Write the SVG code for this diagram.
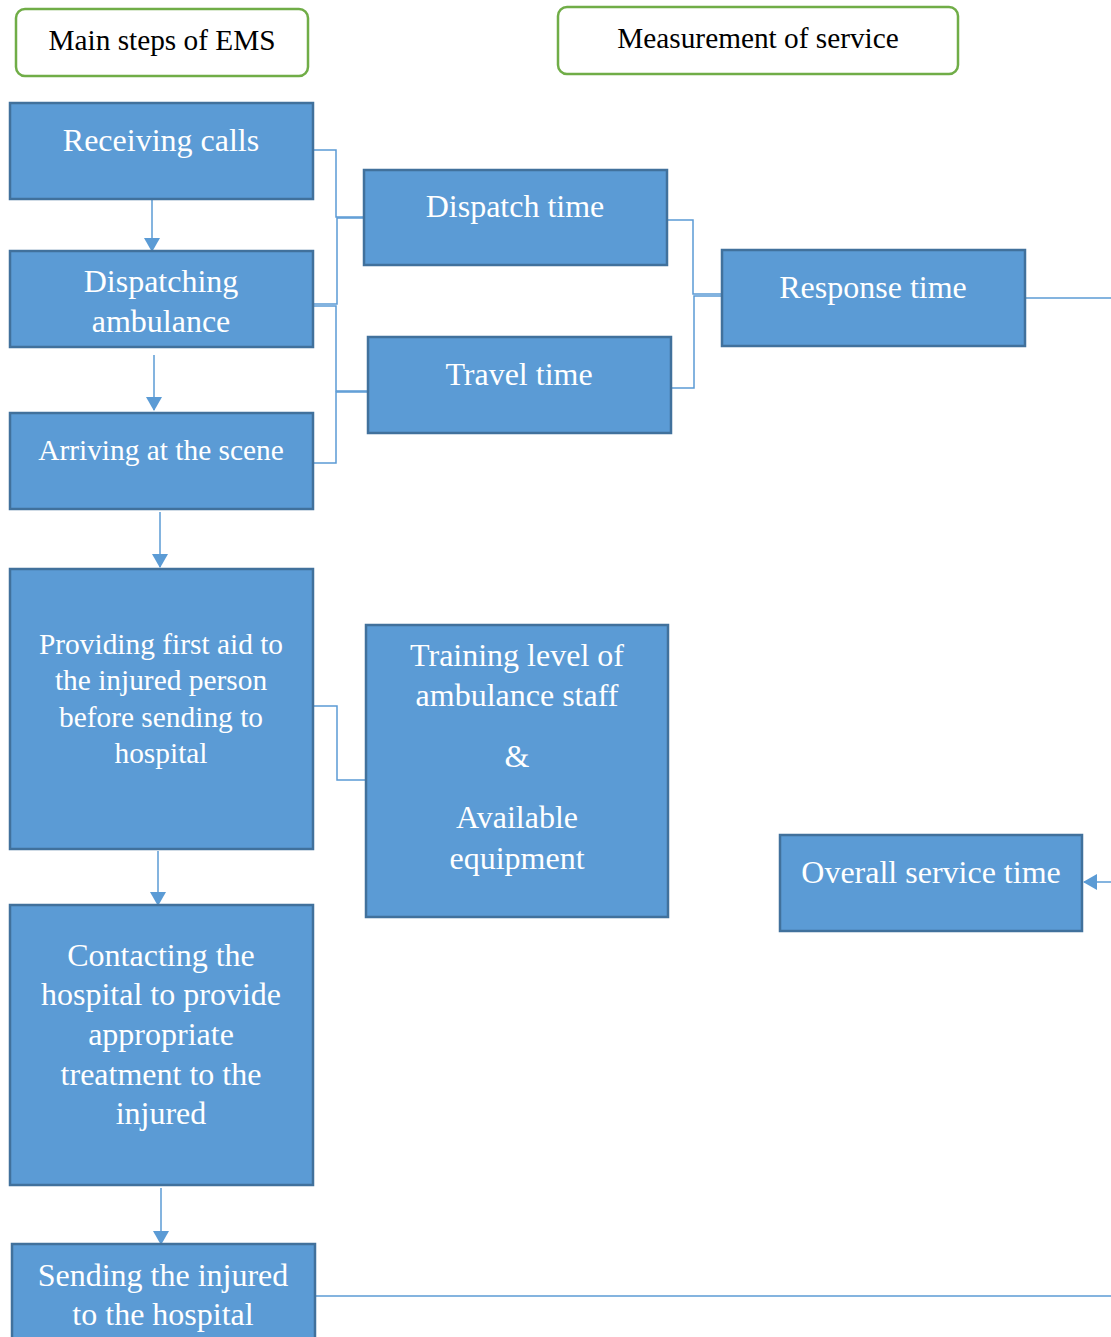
<svg xmlns="http://www.w3.org/2000/svg" width="1111" height="1337" viewBox="0 0 1111 1337">
<defs>
<style>
.hdr{fill:#fff;stroke:#70ad47;stroke-width:2.5}
.box{fill:#5b9bd5;stroke:#41719c;stroke-width:2.5}
.ht{font-family:"Liberation Serif","Times New Roman",serif;font-size:29.3px;fill:#000;text-anchor:middle}
.bt{font-family:"Liberation Serif","Times New Roman",serif;font-size:32px;fill:#fff;text-anchor:middle}
.st{font-family:"Liberation Serif","Times New Roman",serif;font-size:29.4px;fill:#fff;text-anchor:middle}
.ln{fill:none;stroke:#5b9bd5;stroke-width:1.5}
.ar{fill:none;stroke:#5b9bd5;stroke-width:1.5;marker-end:url(#ah)}
</style>
<marker id="ah" markerWidth="14" markerHeight="16" refX="13" refY="8" orient="auto" markerUnits="userSpaceOnUse">
<path d="M0,0 L14,8 L0,16 Z" fill="#5b9bd5"/>
</marker>
</defs>
<g id="connectors">
<path class="ln" d="M313,150 H336 V217 H364"/>
<path class="ln" d="M313,304 H337 V218 H364"/>
<path class="ln" d="M313,306 H336 V391 H368"/>
<path class="ln" d="M313,463 H336 V392 H368"/>
<path class="ln" d="M667,220 H693 V294 H722"/>
<path class="ln" d="M671,388 H694 V296 H722"/>
<path class="ln" d="M1025,298 H1111"/>
<path class="ln" d="M313,706 H337 V780 H366"/>
<path class="ln" d="M315,1296 H1111"/>
<path class="ar" d="M1111,882 H1084"/>
<path class="ar" d="M152,200 V251"/>
<path class="ar" d="M154,355 V410"/>
<path class="ar" d="M160,512 V567"/>
<path class="ar" d="M158,851 V905"/>
<path class="ar" d="M161,1188 V1244"/>
</g>
<g id="hdr-main"><rect class="hdr" x="16" y="9" width="292" height="67" rx="9"/><text class="ht" x="162" y="50">Main steps of EMS</text></g>
<g id="hdr-measure"><rect class="hdr" x="558" y="7" width="400" height="67" rx="9"/><text class="ht" x="758" y="48">Measurement of service</text></g>
<g id="receiving"><rect class="box" x="10" y="103" width="303" height="96"/><text class="bt" x="161" y="151">Receiving calls</text></g>
<g id="dispatching"><rect class="box" x="10" y="251" width="303" height="96"/><text class="bt" x="161" y="292">Dispatching</text><text class="bt" x="161" y="332">ambulance</text></g>
<g id="arriving"><rect class="box" x="10" y="413" width="303" height="96"/><text class="st" x="161" y="460">Arriving at the scene</text></g>
<g id="firstaid"><rect class="box" x="10" y="569" width="303" height="280"/><text class="st" x="161" y="654">Providing first aid to</text><text class="st" x="161" y="690">the injured person</text><text class="st" x="161" y="727">before sending to</text><text class="st" x="161" y="763">hospital</text></g>
<g id="contacting"><rect class="box" x="10" y="905" width="303" height="280"/><text class="bt" x="161" y="966">Contacting the</text><text class="bt" x="161" y="1005">hospital to provide</text><text class="bt" x="161" y="1045">appropriate</text><text class="bt" x="161" y="1085">treatment to the</text><text class="bt" x="161" y="1124">injured</text></g>
<g id="sending"><rect class="box" x="12" y="1244" width="303" height="100"/><text class="bt" x="163" y="1286">Sending the injured</text><text class="bt" x="163" y="1325">to the hospital</text></g>
<g id="dispatch-time"><rect class="box" x="364" y="170" width="303" height="95"/><text class="bt" x="515" y="217">Dispatch time</text></g>
<g id="travel-time"><rect class="box" x="368" y="337" width="303" height="96"/><text class="bt" x="519" y="385">Travel time</text></g>
<g id="response-time"><rect class="box" x="722" y="250" width="303" height="96"/><text class="bt" x="873" y="298">Response time</text></g>
<g id="training"><rect class="box" x="366" y="625" width="302" height="292"/><text class="bt" x="517" y="666">Training level of</text><text class="bt" x="517" y="706">ambulance staff</text><text class="bt" x="517" y="767">&amp;</text><text class="bt" x="517" y="828">Available</text><text class="bt" x="517" y="869">equipment</text></g>
<g id="overall"><rect class="box" x="780" y="835" width="302" height="96"/><text class="bt" x="931" y="883">Overall service time</text></g>
</svg>
